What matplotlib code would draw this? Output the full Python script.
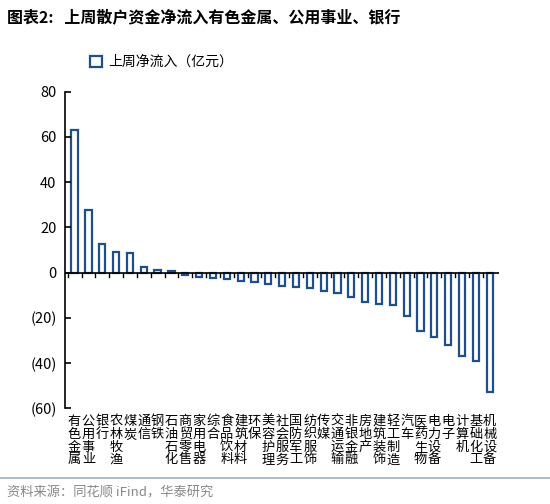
import matplotlib
matplotlib.use("Agg")
import matplotlib.pyplot as plt

plt.rcParams['font.family'] = ['Noto Sans CJK SC', 'DejaVu Sans']

# ---------------------------------------------------------------------------
# Data
# ---------------------------------------------------------------------------
INDUSTRIES = ["有色金属", "公用事业", "银行", "农林牧渔", "煤炭", "通信", "钢铁",
              "石油石化", "商贸零售", "家用电器", "综合", "食品饮料", "建筑材料",
              "环保", "美容护理", "社会服务", "国防军工", "纺织服饰", "传媒",
              "交通运输", "非银金融", "房地产", "建筑装饰", "轻工制造", "汽车",
              "医药生物", "电力设备", "电子", "计算机", "基础化工", "机械设备"]
NET_INFLOW = [63, 27.5, 12.5, 9, 8.5, 2.5, 1, 0.5, -1, -2, -2.5, -3, -3.5,
              -4, -5, -6, -6.5, -7, -8, -9, -11, -13, -14, -14.5, -19,
              -26, -28.5, -32, -37, -39, -53]
Y_TICKS = [80, 60, 40, 20, 0, -20, -40, -60]
Y_LABELS = ["80", "60", "40", "20", "0", "(20)", "(40)", "(60)"]

BLUE = "#1f4e8c"

fig = plt.figure(figsize=(5.5, 5.04), dpi=100)
ax = fig.add_axes([0.118, 0.19, 0.79, 0.628])

x = range(len(INDUSTRIES))
ax.bar(x, NET_INFLOW, width=0.45, facecolor="white", edgecolor=BLUE,
       linewidth=1.6, label="上周净流入（亿元）")

ax.set_ylim(-60, 80)
ax.set_xlim(-0.7, len(INDUSTRIES) - 0.3)
ax.set_yticks(Y_TICKS)
ax.set_yticklabels(Y_LABELS, fontsize=10.5)

for s in ["top", "right", "bottom"]:
    ax.spines[s].set_visible(False)
ax.spines["left"].set_linewidth(1.2)
ax.axhline(0, color="black", linewidth=1.2)
ax.tick_params(axis="y", direction="in", length=4, width=1.2, pad=6)

# x tick labels: vertical stacked chars below the axes, tick marks on zero line
ax.set_xticks([])
for i in x:
    ax.plot([i - 0.5, i - 0.5], [0, -1.8], color="black", linewidth=1)
    ax.text(i, -63, "\n".join(INDUSTRIES[i]), ha="center", va="top",
            fontsize=9.5, linespacing=0.98)

leg = ax.legend(loc="upper left", bbox_to_anchor=(0.03, 1.155), frameon=False,
                fontsize=10, handlelength=0.8, handleheight=0.8,
                handletextpad=0.5)

fig.text(0.012, 0.965, "图表2:   上周散户资金净流入有色金属、公用事业、银行",
         fontsize=11.5, fontweight="bold", va="center")
fig.add_artist(plt.Line2D([0.0, 1.0], [0.052, 0.052], color="#9db0c8", linewidth=1.2))
fig.text(0.012, 0.022, "资料来源：同花顺 iFind，华泰研究", fontsize=9.5,
         color="#888888", va="center")

fig.savefig("out.png", dpi=100)
